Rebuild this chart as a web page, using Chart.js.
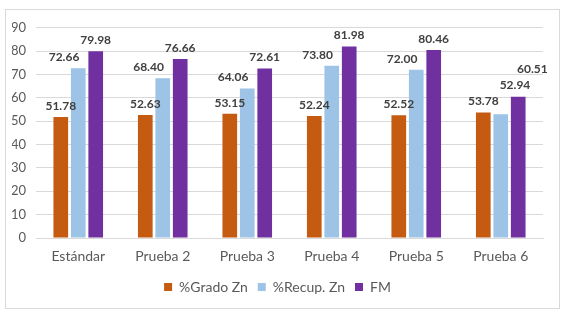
<!DOCTYPE html>
<html>
<head>
<meta charset="utf-8">
<script src="https://cdn.jsdelivr.net/npm/chart.js@4/dist/chart.umd.min.js"></script>
<style>
  html, body { margin: 0; padding: 0; background: #fff; }
  #box { position: absolute; left: 5px; top: 9px; width: 553px; height: 298px; border: 1px solid #d9d9d9; }
</style>
</head>
<body>
<div id="box"><canvas id="c" width="553" height="298"></canvas></div>
<script>
// categories and series
const categories = ['Estándar', 'Prueba 2', 'Prueba 3', 'Prueba 4', 'Prueba 5', 'Prueba 6'];
const gradoZn = [51.78, 52.63, 53.15, 52.24, 52.52, 53.78];
const recupZn = [72.66, 68.40, 64.06, 73.80, 72.00, 52.94];
const fm = [79.98, 76.66, 72.61, 81.98, 80.46, 60.51];

const font = "Lato, 'Open Sans', sans-serif";

// value labels above bars; nudged like Excel does when neighbours collide
const barLabels = {
  id: 'barLabels',
  afterDatasetsDraw(chart) {
    const ctx = chart.ctx;
    ctx.save();
    ctx.font = 'bold 12px ' + font;
    ctx.fillStyle = '#404040';
    ctx.textAlign = 'center';
    ctx.textBaseline = 'middle';
    const sets = chart.data.datasets;
    for (let j = 0; j < chart.data.labels.length; j++) {
      const lab = sets.map((ds, i) => {
        const bar = chart.getDatasetMeta(i).data[j];
        const txt = ds.data[j].toFixed(2);
        return { txt, x: bar.x, y: bar.y - 11, w: ctx.measureText(txt).width, pushed: false };
      });
      // stack labels that sit at the same height
      for (let i = 1; i < lab.length; i++) {
        const a = lab[i - 1], b = lab[i];
        const hOver = (a.x + a.w / 2) > (b.x - b.w / 2);
        if (hOver && Math.abs(a.y - b.y) < 14) {
          b.y = a.y - 16;
          b.pushed = true;
        }
      }
      // slide sideways so neighbours do not touch
      for (let i = lab.length - 2; i >= 0; i--) {
        const a = lab[i], b = lab[i + 1];
        const over = (a.x + a.w / 2) - (b.x - b.w / 2);
        if (over > 0 && Math.abs(a.y - b.y) < 24) {
          if (b.pushed) b.x += over + 1;
          else if (i > 0) a.x -= over + 1;
        }
      }
      lab.forEach(l => ctx.fillText(l.txt, l.x, l.y));
    }
    ctx.restore();
  }
};

new Chart(document.getElementById('c'), {
  type: 'bar',
  data: {
    labels: categories,
    datasets: [
      { label: '%Grado Zn', data: gradoZn, backgroundColor: '#C55A11' },
      { label: '%Recup. Zn', data: recupZn, backgroundColor: '#9DC3E6' },
      { label: 'FM', data: fm, backgroundColor: '#7030A0' }
    ]
  },
  options: {
    responsive: false,
    animation: false,
    categoryPercentage: 0.62,
    barPercentage: 0.84,
    layout: { padding: { left: 6, right: 16, top: 13, bottom: 4 } },
    plugins: {
      legend: {
        position: 'bottom',
        labels: { boxWidth: 8, boxHeight: 8, padding: 10, color: '#595959', font: { size: 14, family: font } }
      },
      tooltip: { enabled: false }
    },
    scales: {
      x: {
        grid: { display: false },
        border: { color: '#d9d9d9' },
        ticks: { color: '#595959', padding: 2, font: { size: 14, family: font } },
        afterFit: s => { s.height = 32; }
      },
      y: {
        min: 0, max: 90,
        ticks: { stepSize: 10, color: '#595959', padding: 10, font: { size: 13, family: font } },
        grid: { color: '#d9d9d9', drawTicks: false },
        border: { display: false },
        afterFit: s => { s.width = 24; }
      }
    }
  },
  plugins: [barLabels]
});
</script>
</body>
</html>
